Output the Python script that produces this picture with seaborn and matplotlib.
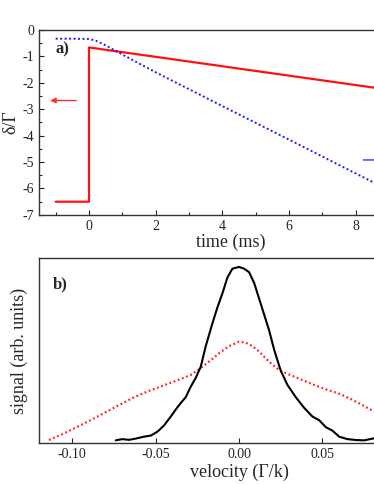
import matplotlib
matplotlib.use("Agg")
import matplotlib.pyplot as plt
import seaborn as sns
import pandas as pd
from matplotlib.ticker import MultipleLocator, FixedLocator, FormatStrFormatter

# a) detuning ramp
t_red = [-1.0, 0.0, 0.0, 10.0]
d_red = [-6.5, -6.5, -0.66, -2.44]
t_blue = [-1.0, -0.5, 0.0, 0.2, 0.5, 1.0, 2.0, 3.0, 4.0, 6.0, 8.0, 10.0]
d_blue = [-0.33, -0.33, -0.34, -0.40, -0.58, -0.93, -1.60, -2.24, -2.88, -4.15, -5.43, -6.70]
time_ticks = [0, 2, 4, 6, 8]

# b) velocity distributions
v_black = [-0.074, -0.070, -0.066, -0.062, -0.057, -0.053, -0.049, -0.045, -0.041, -0.038,
           -0.035, -0.032, -0.029, -0.026, -0.023, -0.020, -0.016, -0.013, -0.010, -0.007,
           -0.004, 0.000, 0.003, 0.006, 0.009, 0.011, 0.014, 0.018, 0.021, 0.025, 0.029,
           0.034, 0.039, 0.044, 0.048, 0.052, 0.056, 0.060, 0.065, 0.070, 0.075, 0.081]
s_black = [0.015, 0.022, 0.018, 0.025, 0.036, 0.042, 0.064, 0.10, 0.15, 0.19,
           0.227, 0.26, 0.32, 0.37, 0.433, 0.55, 0.68, 0.77, 0.85, 0.94,
           0.99, 1.00, 0.99, 0.97, 0.91, 0.85, 0.76, 0.64, 0.53, 0.41, 0.33,
           0.26, 0.20, 0.15, 0.13, 0.09, 0.07, 0.036, 0.022, 0.017, 0.015, 0.027]
v_red = [-0.114, -0.106, -0.099, -0.091, -0.083, -0.073, -0.063, -0.053, -0.043, -0.036,
         -0.029, -0.022, -0.017, -0.012, -0.006, 0.000, 0.004, 0.008, 0.012, 0.016,
         0.020, 0.024, 0.031, 0.038, 0.045, 0.052, 0.060, 0.067, 0.074, 0.081]
s_red = [0.017, 0.05, 0.083, 0.12, 0.16, 0.21, 0.26, 0.30, 0.335, 0.36,
         0.386, 0.433, 0.47, 0.51, 0.55, 0.575, 0.57, 0.55, 0.52, 0.48,
         0.445, 0.414, 0.385, 0.357, 0.33, 0.305, 0.28, 0.25, 0.215, 0.178]
velocity_ticks = [-0.10, -0.05, 0.00, 0.05]

sns.set_style("ticks")
plt.rcParams["font.family"] = ["Liberation Serif", "DejaVu Serif"]
plt.rcParams["axes.unicode_minus"] = False
plt.rcParams["xtick.direction"] = "in"
plt.rcParams["ytick.direction"] = "in"

fig = plt.figure(figsize=(3.74, 4.84), dpi=100)
ax1 = fig.add_axes([0.1043, 0.556, 1.025, 0.382])
ax2 = fig.add_axes([0.1043, 0.0847, 1.07, 0.382])

df_red = pd.DataFrame({"t": t_red, "d": d_red})
df_blue = pd.DataFrame({"t": t_blue, "d": d_blue})
sns.lineplot(data=df_red, x="t", y="d", sort=False, estimator=None, color="#ff1010", lw=1.6, ax=ax1)
sns.lineplot(data=df_blue, x="t", y="d", sort=False, estimator=None, color="#1a1aff", lw=1.4,
             linestyle=(0, (1, 1.3)), ax=ax1)
ax1.annotate("", xy=(-1.25, -2.67), xytext=(-0.3, -2.67),
             arrowprops=dict(arrowstyle="-|>", color="#ff3030", lw=1.0, mutation_scale=8))
ax1.annotate("", xy=(9.5, -4.92), xytext=(8.15, -4.92),
             arrowprops=dict(arrowstyle="-|>", color="#3030ff", lw=1.0, mutation_scale=8))
ax1.set_xlim(-1.5, 10)
ax1.set_ylim(-7, 0)
ax1.set_xticks(time_ticks)
ax1.xaxis.set_minor_locator(FixedLocator([-1, 1, 3, 5, 7]))
ax1.yaxis.set_major_locator(MultipleLocator(1))
ax1.yaxis.set_minor_locator(MultipleLocator(0.5))
ax1.set_xlabel("time (ms)", fontsize=13, labelpad=1)
ax1.set_ylabel("δ/Γ", fontsize=13, labelpad=2)
ax1.text(-1.0, -0.87, "a)", fontsize=12, fontweight="bold")

df_b = pd.DataFrame({"v": v_black, "s": s_black})
df_r = pd.DataFrame({"v": v_red, "s": s_red})
sns.lineplot(data=df_r, x="v", y="s", sort=False, estimator=None, color="#ff2020", lw=1.6,
             linestyle=(0, (0.8, 1.2)), ax=ax2)
sns.lineplot(data=df_b, x="v", y="s", sort=False, estimator=None, color="black", lw=1.5, ax=ax2)
ax2.set_xlim(-0.12, 0.12)
ax2.set_ylim(0, 1.05)
ax2.set_xticks(velocity_ticks)
ax2.xaxis.set_major_formatter(FormatStrFormatter("%.2f"))
ax2.set_yticks([])
ax2.set_xlabel("velocity (Γ/k)", fontsize=13, labelpad=2)
ax2.set_ylabel("signal (arb. units)", fontsize=13, labelpad=8)
ax2.text(-0.112, 0.88, "b)", fontsize=12, fontweight="bold")

for ax in (ax1, ax2):
    ax.tick_params(which="major", length=3.5, width=0.8, labelsize=10, colors="#222222")
    ax.tick_params(which="minor", length=2, width=0.8)
    for sp in ax.spines.values():
        sp.set_color("#333333")
        sp.set_linewidth(1.0)

fig.savefig("out.png", dpi=100)
